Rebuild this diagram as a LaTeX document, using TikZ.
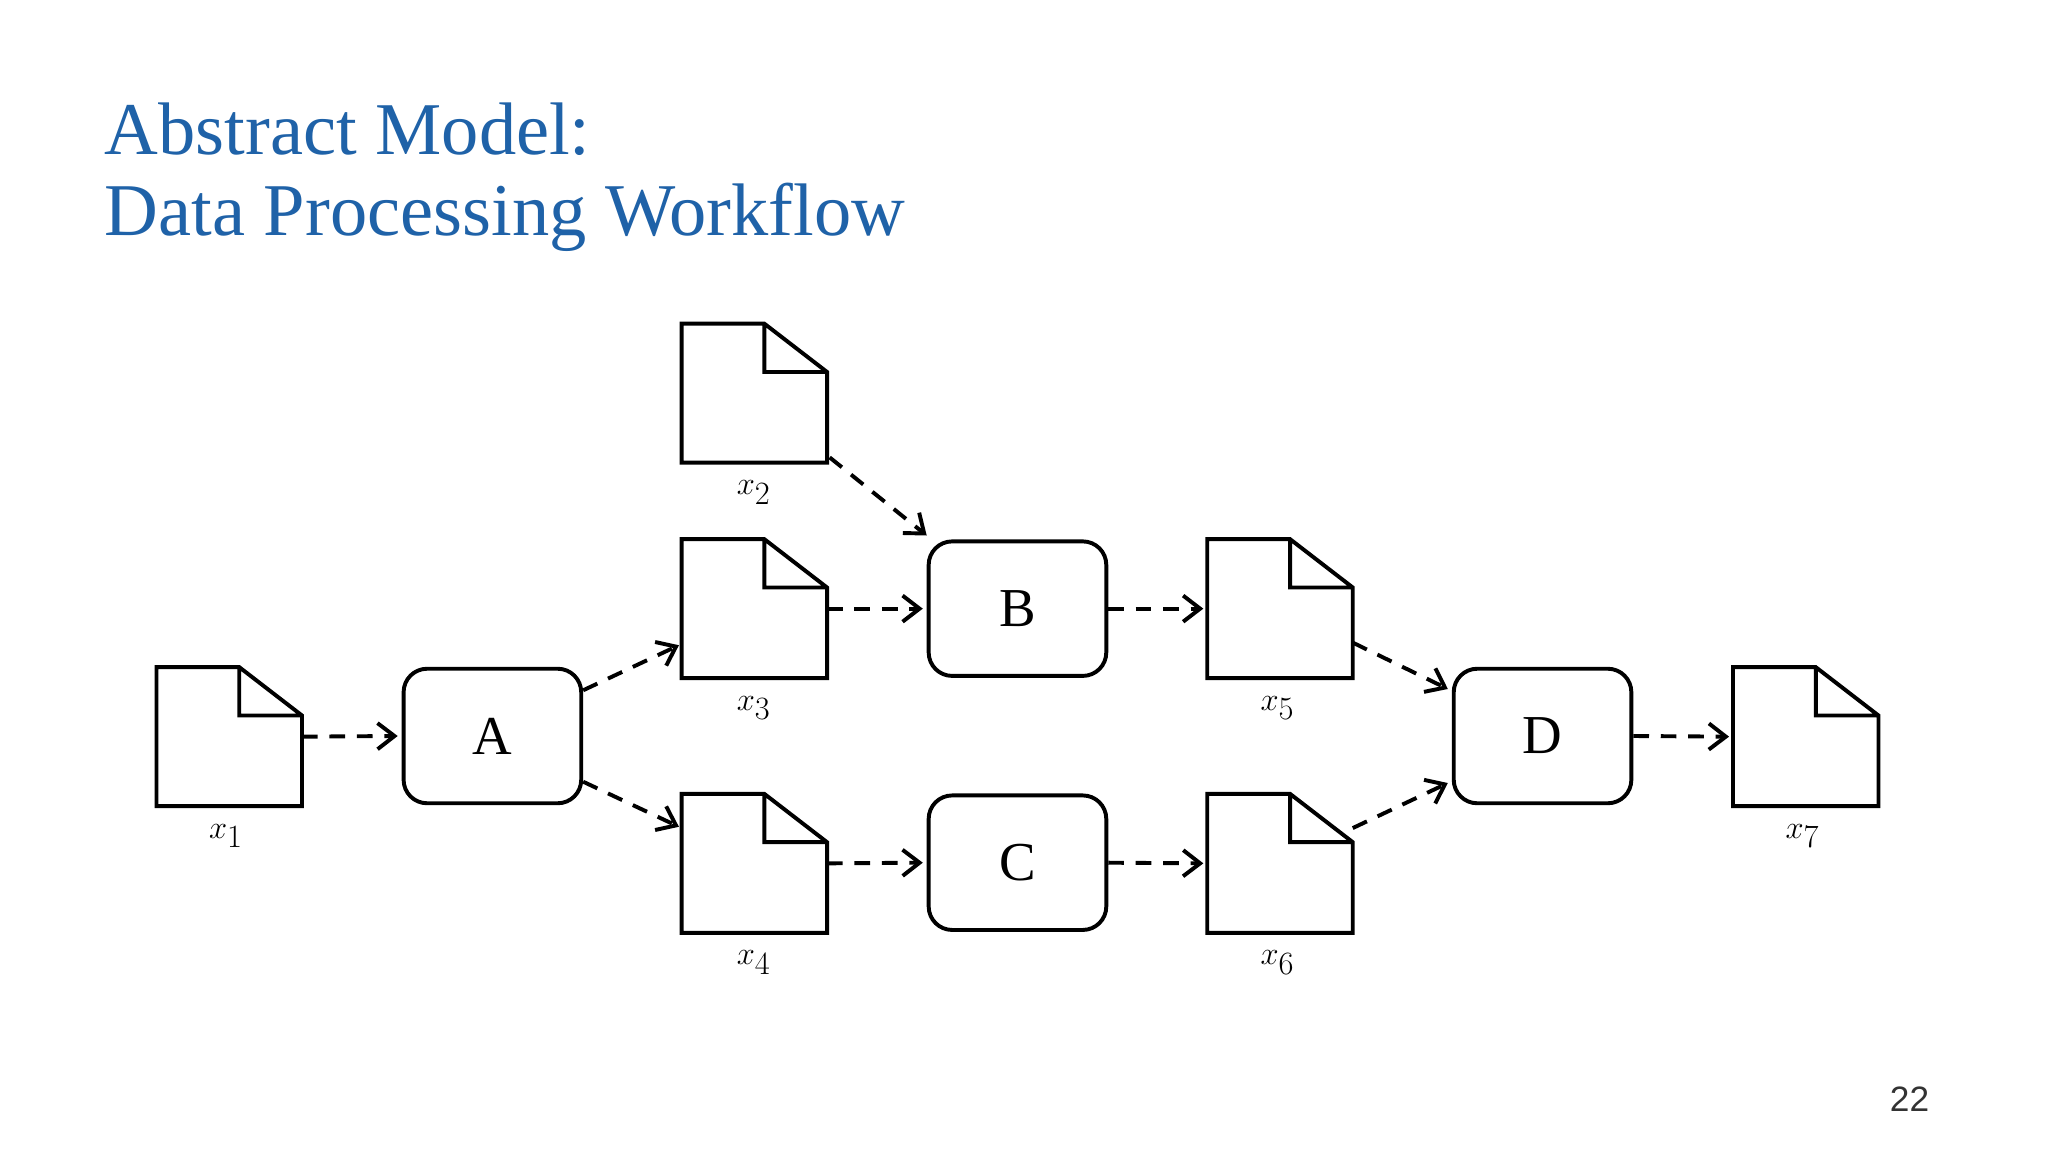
\documentclass[tikz,border=0pt]{standalone}
\usepackage{fontspec}
\setmainfont{Liberation Serif}
\newfontfamily\pgsans{Liberation Sans}
\usetikzlibrary{arrows.meta,calc}
\begin{document}
\begin{tikzpicture}[x=1pt,y=-1pt,
  doc/.style={minimum width=111pt,minimum height=106pt,inner sep=0pt,draw=none},
  proc/.style={draw,line width=3pt,rounded corners=18pt,minimum width=136pt,minimum height=103pt,inner sep=0pt,font=\fontsize{42}{42}\selectfont},
  lab/.style={font=\fontsize{42}{42}\selectfont},
  flow/.style={line width=3pt,dash pattern=on 12pt off 9pt,-{Straight Barb[length=13pt,width=20pt,line width=3pt]}}]
\useasboundingbox[fill=white] (0,0) rectangle (1568,882);
\definecolor{ttl}{HTML}{1F62A8}
\node[anchor=base west,text=ttl,font=\fontsize{57}{57}\selectfont,inner sep=0pt] (t1) at (80,118) {Abstract Model:};
\node[anchor=base west,text=ttl,font=\fontsize{57}{57}\selectfont,inner sep=0pt] (t2) at (80,180) {Data Processing Workflow};
\node[anchor=base,font=\pgsans\fontsize{27}{27}\selectfont,text=black!80,inner sep=0pt] (pg) at (1462,851) {22};
% documents
\foreach \n/\cx/\cy in {x1/175.5/564, x2/577.5/301, x3/577.5/466, x4/577.5/661, x5/980/466, x6/980/661, x7/1382.5/564}{
  \node[doc] (\n) at (\cx,\cy) {};
  \draw[line width=3pt,line join=miter]
    (\n.north west) -- ($(\n.north east)+(-48,0)$) -- ($(\n.north east)+(0,37)$) -- (\n.south east) -- (\n.south west) -- cycle
    ($(\n.north east)+(-48,0)$) -- ($(\n.north east)+(-48,37)$) -- ($(\n.north east)+(0,37)$);
}
\node[lab] (l1) at (173,640) {$x_1$};
\node[lab] (l2) at (577,377) {$x_2$};
\node[lab] (l3) at (577,542) {$x_3$};
\node[lab] (l4) at (577,737) {$x_4$};
\node[lab] (l5) at (978,542) {$x_5$};
\node[lab] (l6) at (978,737) {$x_6$};
\node[lab] (l7) at (1380,640) {$x_7$};
% processes
\node[proc] (A) at (377,563.5) {A};
\node[proc] (B) at (779,466) {B};
\node[proc] (C) at (779,660.5) {C};
\node[proc] (D) at (1181,563.5) {D};
% connectors
\draw[flow] (x1.east) -- ($(A.west)+(-3,0)$);
\draw[flow] ($(A.east)+(0,-35)$) -- ($(x3.west)+(-2,28)$);
\draw[flow] ($(A.east)+(0,35)$) -- ($(x4.west)+(-2,-28)$);
\draw[flow] ($(x2.south east)+(2,-4)$) -- ($(B.north west)+(0,-3)$);
\draw[flow] (x3.east) -- ($(B.west)+(-3,0)$);
\draw[flow] (B.east) -- ($(x5.west)+(-3,0)$);
\draw[flow] (x4.east) -- ($(C.west)+(-3,0)$);
\draw[flow] (C.east) -- ($(x6.west)+(-3,0)$);
\draw[flow] ($(x5.east)+(0,26)$) -- ($(D.west)+(-3,-36)$);
\draw[flow] ($(x6.east)+(0,-27)$) -- ($(D.west)+(-3,36)$);
\draw[flow] (D.east) -- ($(x7.west)+(-3,0)$);
\end{tikzpicture}
\end{document}
